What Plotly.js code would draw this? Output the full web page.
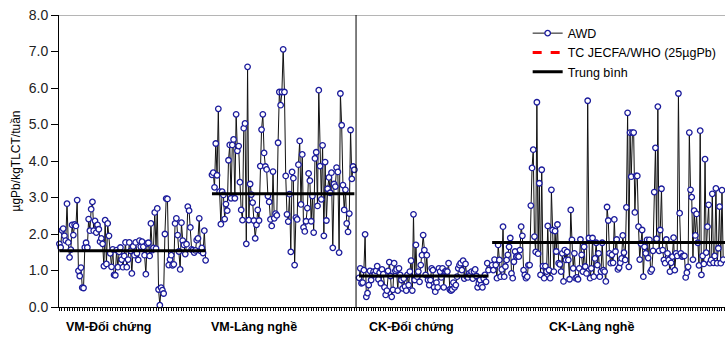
<!DOCTYPE html>
<html>
<head>
<meta charset="utf-8">
<script src="https://cdn.plot.ly/plotly-3.0.1.min.js"></script>
<style>html,body{margin:0;padding:0;background:#fff;}#chart{width:725px;height:339px;}</style>
</head>
<body>
<div id="chart"></div>
<script>
// ---- data ----
const groups = ['VM-Đối chứng', 'VM-Làng nghề', 'CK-Đối chứng', 'CK-Làng nghề'];
const seriesName = 'AWD';
const standardName = 'TC JECFA/WHO (25µgPb)';
const meanName = 'Trung bình';
const yTitle = 'µgPb/kgTLCT/tuần';

const vmDoiChung = [1.73,1.63,2.10,2.15,1.95,1.82,2.83,1.77,1.36,1.57,
  2.25,1.97,2.26,2.22,2.93,0.99,0.85,1.08,0.53,0.52,
  1.63,1.76,1.63,2.41,2.09,2.68,2.88,2.09,2.36,2.04,
  2.25,2.13,1.79,1.88,1.73,1.12,2.38,1.18,2.29,1.95,
  1.47,1.10,1.58,0.88,0.87,1.56,1.09,1.51,1.63,1.30,
  1.09,1.40,1.77,1.09,1.30,1.77,1.54,0.92,1.66,1.42,1.77,
  1.47,1.29,1.82,1.65,1.79,1.65,1.42,0.90,1.74,1.76,
  1.40,2.29,1.56,1.62,2.59,1.60,2.70,0.48,0.05,0.53,
  0.46,0.37,2.00,2.97,2.96,1.15,1.30,1.42,1.14,1.17,
  2.29,2.43,1.97,1.52,1.03,2.31,1.82,1.70,1.45,1.72,
  2.75,2.64,2.18,1.58,1.56,1.49,1.55,1.83,1.88,2.43,
  1.54,1.62,1.48,2.09,1.28];

const vmLangNghe = [3.62,3.68,3.28,4.48,3.61,5.43,3.16,2.27,3.16,3.07,
  2.41,2.82,2.64,4.02,4.44,2.98,4.44,4.59,2.98,5.28,
  4.28,4.41,3.42,2.66,2.38,4.90,5.03,1.73,6.58,2.38,
  3.37,3.08,2.86,2.37,1.88,2.25,2.66,2.37,3.86,4.86,
  5.28,4.22,3.85,3.77,3.04,2.88,2.40,2.22,3.71,2.43,
  2.56,2.51,4.50,5.89,5.53,
  5.89,7.06,5.89,3.59,2.54,2.34,3.09,1.51,3.70,3.53,
  1.15,2.45,2.40,3.90,4.55,2.81,4.18,2.18,2.07,2.35,
  2.71,3.66,3.46,2.35,3.04,2.04,4.07,4.24,2.77,5.94,
  3.86,2.95,4.43,1.95,3.97,2.37,3.24,3.55,3.13,3.68,
  1.62,3.37,3.30,3.82,3.70,1.49,5.85,4.98,3.34,2.66,
  3.21,2.29,2.06,2.56,4.85,3.51,3.85,3.76];

const ckDoiChung = [0.80,1.06,0.65,0.67,1.01,1.99,0.28,0.38,0.60,0.99,
  0.74,0.88,0.97,0.90,0.99,1.12,0.76,0.94,0.65,1.03,
  0.90,0.54,0.33,0.45,0.99,1.23,0.85,0.28,0.47,1.20,
  0.99,1.03,0.45,1.06,0.88,0.74,0.51,0.78,0.56,0.45,
  0.88,0.60,0.97,1.27,0.45,2.54,0.74,1.70,0.83,0.97,
  0.69,1.15,1.42,1.97,1.56,0.88,1.42,0.74,0.60,0.74,
  1.06,1.01,0.54,0.42,0.67,0.54,1.06,0.97,0.81,1.06,
  0.54,0.97,0.99,0.97,1.20,0.48,0.45,0.48,0.67,0.54,
  0.60,0.83,1.06,1.15,1.20,1.01,1.27,0.78,1.18,0.83,
  0.81,0.92,0.88,0.97,0.78,0.97,1.03,0.85,0.54,0.65,
  0.74,0.60,0.54,0.78,0.88,0.69,1.20,1.01];

const ckLangNghe = [1.15,1.01,1.30,1.15,0.79,1.70,1.29,0.83,1.03,2.20,
  0.83,1.11,1.29,1.43,1.65,1.89,0.92,0.79,1.24,1.52,
  1.38,1.40,1.38,1.56,2.20,1.95,1.01,0.88,0.79,0.83,
  1.15,1.15,2.78,3.81,4.31,1.93,1.51,5.61,1.46,3.39,
  0.88,3.76,1.12,0.79,1.12,0.97,2.22,1.01,0.79,3.21,
  2.11,0.97,2.08,1.52,2.26,1.20,1.17,0.97,1.47,0.70,
  1.56,1.29,1.51,1.29,0.76,2.66,1.84,1.06,1.47,0.79,
  0.81,0.76,1.06,1.85,1.43,0.97,1.65,1.11,0.92,5.65,
  1.89,0.79,1.06,1.89,0.83,1.33,1.76,1.15,1.47,0.83,
  0.97,1.76,1.01,0.97,0.70,2.74,
  2.37,1.47,1.20,1.43,1.21,2.40,1.52,1.85,1.03,1.08,
  1.21,1.33,1.96,1.49,1.29,2.73,5.32,1.10,4.78,3.57,
  4.78,4.78,2.59,3.59,3.59,2.20,1.30,1.74,2.11,0.83,
  1.65,1.47,1.84,1.34,1.84,0.97,1.03,1.54,3.15,4.36,
  1.87,5.49,1.54,2.11,3.24,1.56,1.29,1.20,1.85,1.47,
  1.29,0.97,1.21,1.38,1.90,1.01,1.47,1.40,5.85,2.57,
  1.47,1.38,1.40,1.40,0.81,0.94,1.10,4.78,3.21,3.01,
  1.30,2.64,1.96,2.55,1.76,1.14,4.83,0.88,1.40,1.18,
  4.05,1.49,2.20,2.80,1.20,1.29,3.10,1.21,1.40,3.25,
  1.20,1.61,2.75,1.20,3.20,1.30];

const means = [1.54, 3.10, 0.85, 1.77];
const standardValue = 25;
const yTickVals = [0,1,2,3,4,5,6,7,8];

// ---- placement of the four series on the two panels ----
const panels = [
  {data: vmDoiChung, xaxis: 'x',  offset: 0},
  {data: vmLangNghe, xaxis: 'x',  offset: vmDoiChung.length + 4},
  {data: ckDoiChung, xaxis: 'x2', offset: 0},
  {data: ckLangNghe, xaxis: 'x2', offset: ckDoiChung.length + 2}
];

const FONT = 'Arial, "Liberation Sans", sans-serif';
const traces = [];
panels.forEach((p, g) => {
  traces.push({
    type: 'scatter', mode: 'lines+markers',
    x: p.data.map((_, i) => i + p.offset), y: p.data,
    xaxis: p.xaxis, yaxis: 'y',
    name: seriesName, legendgroup: 'awd', showlegend: g === 0,
    line: {color: '#111', width: 1},
    marker: {symbol: 'circle', size: 5.5, color: '#ffffff', line: {color: '#1c1c9c', width: 1.3}},
    cliponaxis: false
  });
});
// JECFA/WHO standard (above the visible scale; shows in the legend)
traces.push({
  type: 'scatter', mode: 'lines', x: [-2.5, 302.5], y: [standardValue, standardValue],
  xaxis: 'x2', yaxis: 'y', name: standardName,
  line: {color: '#ff0000', width: 3, dash: 'dash'}
});
panels.forEach((p, g) => {
  traces.push({
    type: 'scatter', mode: 'lines',
    x: [p.offset, p.offset + p.data.length - 1 + (g === 3 ? 20 : 0)], y: [means[g], means[g]],
    xaxis: p.xaxis, yaxis: 'y',
    name: meanName, legendgroup: 'mean', showlegend: g === 0,
    line: {color: '#000', width: 3}
  });
});

const splitFrac = 0.446;
const labelX = [39, 153, 43, 192];
const annotations = groups.map((t, g) => ({
  text: '<b>' + t + '</b>', xref: g < 2 ? 'x' : 'x2', yref: 'y',
  x: labelX[g], y: 0, yshift: -20, showarrow: false,
  font: {family: FONT, size: 12.5, color: '#000'}
}));

const xStyle = {
  showline: true, linecolor: '#000', linewidth: 1, mirror: false,
  ticks: 'outside', ticklen: 3, tickwidth: 1, tickcolor: '#000', dtick: 2, tick0: 0,
  showticklabels: false, showgrid: false, zeroline: false, anchor: 'y'
};

const layout = {
  width: 725, height: 339,
  margin: {l: 59, r: 0, t: 15, b: 32},
  paper_bgcolor: '#fff', plot_bgcolor: '#fff',
  font: {family: FONT, size: 13, color: '#000'},
  showlegend: true,
  legend: {x: 0.995, y: 0.988, xanchor: 'right', yanchor: 'top', bgcolor: 'rgba(0,0,0,0)',
           font: {family: FONT, size: 12.5, color: '#000'}, tracegroupgap: 0, itemwidth: 30},
  xaxis: Object.assign({}, xStyle, {domain: [0, splitFrac], range: [-0.3, 233.3]}),
  xaxis2: Object.assign({}, xStyle, {domain: [splitFrac, 1], range: [-2.5, 302.5]}),
  yaxis: {
    range: [0, 8], tickvals: yTickVals, tickformat: '.1f',
    showline: true, linecolor: '#000', linewidth: 1,
    ticks: 'outside', ticklen: 7, tickcolor: '#000',
    showgrid: false, zeroline: false,
    tickfont: {family: FONT, size: 14, color: '#222'},
    title: {text: yTitle, font: {family: FONT, size: 12, color: '#000'}, standoff: 5}
  },
  shapes: [
    {type: 'line', xref: 'paper', yref: 'y', x0: 0, x1: 1, y0: 8, y1: 8, line: {color: '#b5b5b5', width: 2}},
    {type: 'line', xref: 'paper', yref: 'y', x0: splitFrac, x1: splitFrac, y0: 0, y1: 8, line: {color: '#000', width: 1}}
  ],
  annotations: annotations
};

Plotly.newPlot('chart', traces, layout, {staticPlot: true, displayModeBar: false});
</script>
</body>
</html>
